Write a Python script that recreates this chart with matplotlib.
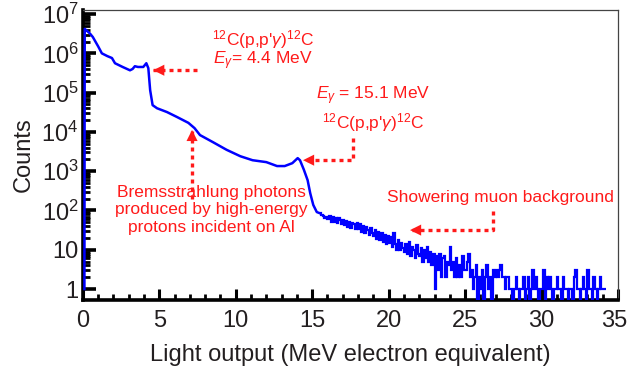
"""
Light-output spectrum with 12C(p,p'gamma) lines, bremsstrahlung and muon tail.
"""
import numpy as np
import matplotlib
matplotlib.use("Agg")
import matplotlib.pyplot as plt
from matplotlib.ticker import FixedLocator, FuncFormatter
from matplotlib.transforms import ScaledTranslation

plt.rcParams['font.family'] = ['Liberation Sans', 'DejaVu Sans']
plt.rcParams['mathtext.fontset'] = 'custom'
plt.rcParams['mathtext.rm'] = 'Liberation Sans'
plt.rcParams['mathtext.it'] = 'Liberation Sans:italic'

# smooth (high statistics) part of the spectrum: light output (MeV), counts
SMOOTH_E = [0.10, 0.12, 0.46, 0.65, 1.0, 1.24, 1.6, 1.9, 2.1, 2.6, 3.08, 3.25,
            3.4, 3.6, 3.95, 4.15, 4.28, 4.4, 4.56, 4.85, 5.5, 6.15, 6.9, 7.3,
            7.66, 8.5, 9.4, 10.3, 11.1, 12.0, 12.7, 13.2, 13.7, 14.05, 14.2,
            14.45, 14.7, 14.87, 15.07, 15.3, 15.5]
SMOOTH_COUNTS = [1, 4.2e6, 3.2e6, 2.6e6, 1.5e6, 1.0e6, 8.5e5, 7.6e5, 5.6e5,
                 4.5e5, 3.7e5, 4.0e5, 4.7e5, 4.5e5, 4.5e5, 5.6e5, 4.2e5,
                 1.15e5, 4.8e4, 4.0e4, 3.2e4, 2.4e4, 1.7e4, 1.25e4, 8.3e3,
                 5.5e3, 3.5e3, 2.4e3, 1.9e3, 1.7e3, 1.35e3, 1.35e3, 1.6e3,
                 2.15e3, 1.9e3, 1.1e3, 590, 275, 138, 91, 85]

# low-statistics tail, 0.1 MeV bins starting at 15.5 MeV
TAIL_START = 15.5
TAIL_BIN = 0.1
TAIL_COUNTS = [
    85, 78, 72, 66, 70,
    62, 74, 52, 68, 50, 66, 48, 63, 58, 44,   # 16
    58, 42, 54, 38, 52, 36, 49, 44, 34, 47,   # 17
    33, 45, 29, 40, 27, 37, 32, 24, 36, 26,   # 18
    22, 32, 19, 29, 18, 26, 16, 24, 14, 22,   # 19
    15, 21, 12, 27, 14, 10, 18, 10, 15, 11,   # 20
    9, 14, 8, 16, 7, 12, 10, 6, 13, 8,        # 21
    7, 11, 5, 10, 6, 12, 5, 9, 4, 8,          # 22
    1, 7, 3, 8, 2, 6, 7, 2, 5, 4,             # 23
    12, 3, 5, 2, 6, 2, 4, 2, 7, 3,            # 24
    3, 5, 8, 2, 3, 1, 2, 4, 0, 2,             # 25
    1, 3, 0, 2, 4, 1, 2, 0, 3, 2,             # 26
    3, 2, 3, 4, 2, 2, 1, 2, 2, 1,             # 27
    1, 0, 1, 2, 1, 0, 1, 1, 2, 0,             # 28
    1, 2, 0, 1, 3, 1, 2, 1, 0, 1,             # 29
    1, 3, 0, 2, 1, 2, 1, 0, 1, 1,             # 30
    2, 1, 1, 0, 2, 1, 1, 0, 1, 1,             # 31
    0, 2, 3, 1, 1, 0, 1, 2, 1, 0,             # 32
    3, 1, 1, 0, 2, 1, 0, 1, 2, 1,             # 33
    1, 1,                                     # 34
]

X_TICKS = [0, 5, 10, 15, 20, 25, 30, 35]
Y_DECADES = [0, 1, 2, 3, 4, 5, 6, 7]

RED = '#ff1a1a'
BLUE = '#0000ff'
INK = '#231f20'


def yfmt(v, pos):
    d = int(round(np.log10(v)))
    if d == 0:
        return '1'
    if d == 1:
        return '10'
    return r'$10^{%d}$' % d


def dotted_arrow(ax, pts):
    """Dotted red polyline ending in a solid arrow head at pts[-1]."""
    xs = [p[0] for p in pts]
    ys = [p[1] for p in pts]
    ax.plot(xs, ys, color=RED, lw=2.4, ls=(0, (1.2, 1.2)), zorder=4,
            dash_capstyle='butt')
    ax.annotate('', xy=pts[-1], xytext=pts[-2],
                arrowprops=dict(arrowstyle='-|>,head_length=0.8,head_width=0.4',
                                color=RED, lw=0, shrinkA=0, shrinkB=0),
                zorder=5)


def main():
    fig = plt.figure(figsize=(6.28, 3.75), dpi=100)
    ax = fig.add_axes([0.132, 0.2, 0.852, 0.773])

    se = np.array(SMOOTH_E)
    sc = np.array(SMOOTH_COUNTS, dtype=float)
    ax.plot(se, sc, color=BLUE, lw=1.8, zorder=3)

    tc = np.array(TAIL_COUNTS, dtype=float)
    edges = TAIL_START + TAIL_BIN * np.arange(len(tc) + 1)
    tc = np.where(tc > 0, tc, 0.3)
    ax.stairs(tc, edges, color=BLUE, lw=1.6, baseline=None, zorder=3)

    ax.set_yscale('log')
    ax.set_xlim(0, 35)
    ax.set_ylim(0.525, 1.26e7)

    # axes styling (ROOT-like)
    for s in ['left', 'bottom']:
        ax.spines[s].set_linewidth(2.6)
        ax.spines[s].set_color('black')
    for s in ['top', 'right']:
        ax.spines[s].set_linewidth(0.9)
        ax.spines[s].set_color('#444444')

    ax.xaxis.set_major_locator(FixedLocator(X_TICKS))
    ax.xaxis.set_minor_locator(FixedLocator(np.arange(0, 35.1, 1)))
    ax.yaxis.set_major_locator(FixedLocator([10.0 ** d for d in Y_DECADES]))
    minors = [m * 10.0 ** d for d in Y_DECADES[:-1] for m in range(2, 10)]
    ax.yaxis.set_minor_locator(FixedLocator(minors))
    ax.yaxis.set_major_formatter(FuncFormatter(yfmt))
    ax.yaxis.set_minor_formatter(FuncFormatter(lambda v, p: ''))

    ax.tick_params(axis='both', which='both', direction='in', top=False,
                   right=False, colors='black', labelcolor=INK, labelsize=17)
    ax.tick_params(axis='x', which='major', length=8, width=2.2, pad=7)
    ax.tick_params(axis='x', which='minor', length=4, width=2)
    ax.tick_params(axis='y', which='major', length=9, width=2.6, pad=3)
    ax.tick_params(axis='y', which='minor', length=5, width=2)

    fig.canvas.draw()
    last = ax.get_xticklabels()[-1]
    last.set_transform(last.get_transform() +
                       ScaledTranslation(-3 / 72, 0, fig.dpi_scale_trans))

    ax.set_xlabel('Light output (MeV electron equivalent)', fontsize=17,
                  color=INK, labelpad=9)
    ax.set_ylabel('Counts', fontsize=17, color=INK, labelpad=5)

    # annotations
    fs = 12.5
    ax.text(11.8, 10 ** 6.36, r"$^{12}$C(p,p'$\it{\gamma}$)$^{12}$C",
            color=RED, fontsize=fs, ha='center', va='center')
    ax.text(11.8, 10 ** 5.82, r"$E_{\gamma}$= 4.4 MeV",
            color=RED, fontsize=fs, ha='center', va='center')
    dotted_arrow(ax, [(7.45, 10 ** 5.57), (4.6, 10 ** 5.57)])

    ax.text(19.0, 10 ** 4.93, r"$E_{\gamma}$ = 15.1 MeV",
            color=RED, fontsize=fs, ha='center', va='center')
    ax.text(19.0, 10 ** 4.23, r"$^{12}$C(p,p'$\it{\gamma}$)$^{12}$C",
            color=RED, fontsize=fs, ha='center', va='center')
    dotted_arrow(ax, [(17.7, 10 ** 3.85), (17.7, 10 ** 3.28), (14.4, 10 ** 3.28)])

    ax.text(8.4, 10 ** 2.02, 'Bremsstrahlung photons\nproduced by high-energy\n'
            'protons incident on Al', color=RED, fontsize=fs, ha='center',
            va='center', linespacing=1.2)
    dotted_arrow(ax, [(7.14, 10 ** 2.3), (7.14, 10 ** 4.05)])

    ax.text(27.3, 10 ** 2.32, 'Showering muon background', color=RED,
            fontsize=fs, ha='center', va='center')
    dotted_arrow(ax, [(26.85, 10 ** 1.98), (26.85, 10 ** 1.5), (21.4, 10 ** 1.5)])

    fig.savefig('out.png', dpi=100)
    plt.close(fig)


if __name__ == "__main__":
    main()
